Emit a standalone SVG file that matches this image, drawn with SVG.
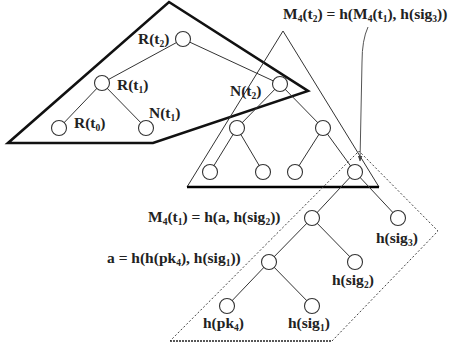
<svg xmlns="http://www.w3.org/2000/svg" width="451" height="349" viewBox="0 0 451 349">
<defs>
<style>
.thick{fill:none;stroke:#111;stroke-width:2.6;stroke-linejoin:miter}
.tri{fill:none;stroke:#333;stroke-width:1}
.dash{fill:none;stroke:#444;stroke-width:1;stroke-dasharray:2,2}
.edge{stroke:#333;stroke-width:1;fill:none}
.node{fill:#fff;stroke:#333;stroke-width:1.1}
.lbl{font-family:"Liberation Serif","Times New Roman",serif;font-size:15.5px;font-weight:bold;fill:#222}
.sub{font-size:9.5px}
</style>
<marker id="ah" viewBox="0 0 10 10" refX="9" refY="5" markerWidth="6" markerHeight="6" orient="auto">
<path d="M0,1 L10,5 L0,9 z" fill="#444"/>
</marker>
</defs>
<rect width="451" height="349" fill="#fff"/>
<g id="outlines">
<polygon class="thick" points="169,2 308,91 153,143 8,143"/>
<polygon class="tri" points="283,31 379,187 187,187"/>
<line x1="187" y1="187" x2="379" y2="187" stroke="#000" stroke-width="2.6"/>
<polyline class="dash" points="332,341 438,231 359,151 170,341"/>
<line x1="170" y1="341" x2="332" y2="341" stroke="#222" stroke-width="1.6" stroke-dasharray="2,1"/>
</g>
<g id="connectors">
<line class="edge" x1="183" y1="39" x2="102" y2="83"/>
<line class="edge" x1="183" y1="39" x2="280" y2="84"/>
<line class="edge" x1="102" y1="83" x2="59" y2="128"/>
<line class="edge" x1="102" y1="83" x2="146" y2="128"/>
<line class="edge" x1="280" y1="84" x2="237" y2="128"/>
<line class="edge" x1="280" y1="84" x2="323" y2="128"/>
<line class="edge" x1="237" y1="128" x2="210" y2="172"/>
<line class="edge" x1="237" y1="128" x2="263" y2="172"/>
<line class="edge" x1="323" y1="128" x2="295" y2="172"/>
<line class="edge" x1="323" y1="128" x2="355" y2="172"/>
<line class="edge" x1="355" y1="172" x2="312" y2="218"/>
<line class="edge" x1="355" y1="172" x2="398" y2="218"/>
<line class="edge" x1="312" y1="218" x2="269" y2="262"/>
<line class="edge" x1="312" y1="218" x2="355" y2="262"/>
<line class="edge" x1="269" y1="262" x2="227" y2="306"/>
<line class="edge" x1="269" y1="262" x2="312" y2="306"/>
<path d="M368,27 Q362,40 362,62 L360,161" fill="none" stroke="#555" stroke-width="1" marker-end="url(#ah)"/>
</g>
<g id="n-Rt2"><circle class="node" cx="183" cy="39" r="7.5"/><text class="lbl" x="138" y="44">R(t<tspan class="sub" dy="3">2</tspan><tspan dy="-3">)</tspan></text></g>
<g id="n-Rt1"><circle class="node" cx="102" cy="83" r="7.5"/><text class="lbl" x="117" y="90">R(t<tspan class="sub" dy="3">1</tspan><tspan dy="-3">)</tspan></text></g>
<g id="n-Rt0"><circle class="node" cx="59" cy="128" r="7.5"/><text class="lbl" x="74" y="128">R(t<tspan class="sub" dy="3">0</tspan><tspan dy="-3">)</tspan></text></g>
<g id="n-Nt1"><circle class="node" cx="146" cy="128" r="7.5"/><text class="lbl" x="149" y="118">N(t<tspan class="sub" dy="3">1</tspan><tspan dy="-3">)</tspan></text></g>
<g id="n-Nt2"><circle class="node" cx="280" cy="84" r="7.5"/><text class="lbl" x="230" y="96">N(t<tspan class="sub" dy="3">2</tspan><tspan dy="-3">)</tspan></text></g>
<g id="n-m1"><circle class="node" cx="237" cy="128" r="7.5"/></g>
<g id="n-m2"><circle class="node" cx="323" cy="128" r="7.5"/></g>
<g id="n-l1"><circle class="node" cx="210" cy="172" r="7.5"/></g>
<g id="n-l2"><circle class="node" cx="263" cy="172" r="7.5"/></g>
<g id="n-l3"><circle class="node" cx="295" cy="172" r="7.5"/></g>
<g id="n-M4t2"><circle class="node" cx="355" cy="172" r="7.5"/><text class="lbl" x="283" y="19">M<tspan class="sub" dy="3">4</tspan><tspan dy="-3">(t</tspan><tspan class="sub" dy="3">2</tspan><tspan dy="-3">) = h(M</tspan><tspan class="sub" dy="3">4</tspan><tspan dy="-3">(t</tspan><tspan class="sub" dy="3">1</tspan><tspan dy="-3">), h(sig</tspan><tspan class="sub" dy="3">3</tspan><tspan dy="-3">))</tspan></text></g>
<g id="n-M4t1"><circle class="node" cx="312" cy="218" r="7.5"/><text class="lbl" x="148" y="222">M<tspan class="sub" dy="3">4</tspan><tspan dy="-3">(t</tspan><tspan class="sub" dy="3">1</tspan><tspan dy="-3">) = h(a, h(sig</tspan><tspan class="sub" dy="3">2</tspan><tspan dy="-3">))</tspan></text></g>
<g id="n-sig3"><circle class="node" cx="398" cy="218" r="7.5"/><text class="lbl" x="376" y="243">h(sig<tspan class="sub" dy="3">3</tspan><tspan dy="-3">)</tspan></text></g>
<g id="n-a"><circle class="node" cx="269" cy="262" r="7.5"/><text class="lbl" x="107" y="263">a = h(h(pk<tspan class="sub" dy="3">4</tspan><tspan dy="-3">), h(sig</tspan><tspan class="sub" dy="3">1</tspan><tspan dy="-3">))</tspan></text></g>
<g id="n-sig2"><circle class="node" cx="355" cy="262" r="7.5"/><text class="lbl" x="332" y="285">h(sig<tspan class="sub" dy="3">2</tspan><tspan dy="-3">)</tspan></text></g>
<g id="n-pk4"><circle class="node" cx="227" cy="306" r="7.5"/><text class="lbl" x="203" y="328">h(pk<tspan class="sub" dy="3">4</tspan><tspan dy="-3">)</tspan></text></g>
<g id="n-sig1"><circle class="node" cx="312" cy="306" r="7.5"/><text class="lbl" x="288" y="328">h(sig<tspan class="sub" dy="3">1</tspan><tspan dy="-3">)</tspan></text></g>
</svg>
